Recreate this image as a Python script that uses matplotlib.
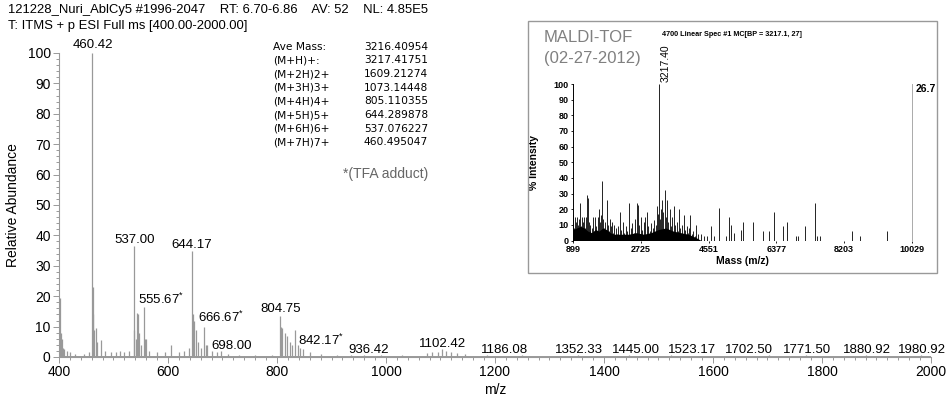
import matplotlib
matplotlib.use("Agg")
import matplotlib.pyplot as plt
from matplotlib.patches import Rectangle
from matplotlib.ticker import MultipleLocator

plt.rcParams['font.family'] = ['Liberation Sans', 'DejaVu Sans']
plt.rcParams['mathtext.fontset'] = 'custom'
plt.rcParams['mathtext.rm'] = 'Liberation Sans'

# ESI full scan, stick peaks (m/z, relative abundance)
esi_mz = [402.5, 403.7, 405, 407, 410, 415, 420, 430, 445, 455,
          460.42, 461.5, 463, 465, 467, 470, 477, 485, 495, 505,
          512, 520, 528, 537.00, 538.5, 541, 543, 545, 547, 550,
          555.67, 557.5, 559, 565, 580, 595, 606, 620, 630, 638,
          644.17, 645.5, 648, 651, 655.5, 660, 666.67, 669, 671, 680,
          690, 698.00, 710, 730, 760, 790, 804.75, 806.5, 810, 814.5,
          819, 824, 828, 833, 838, 842.17, 848, 860, 880, 910,
          936.42, 960, 990, 1030, 1075, 1085, 1095, 1102.42, 1110, 1120,
          1130, 1145, 1186.08, 1250, 1352.33, 1445.00, 1523.17, 1702.50, 1771.50, 1880.92,
          1980.92]
esi_int = [19.3, 8, 6, 3, 2.5, 2, 1.5, 1, 1, 1.5,
           100, 23, 14, 9, 9.5, 5, 5.5, 2, 1.5, 1.5,
           2, 1.5, 2, 36.5, 9, 6, 14.5, 14, 8, 4,
           16.5, 6, 6, 2, 1.5, 1.5, 4, 1.5, 2, 3,
           35, 14, 12, 9, 5, 3, 10, 4, 4, 2,
           1.5, 2, 1, 0.8, 0.8, 0.8, 13.5, 10, 9.5, 8,
           7, 5, 4, 9, 4, 3, 2.5, 1.5, 1, 0.8,
           0.8, 0.6, 0.6, 0.6, 1.2, 1.5, 1.8, 2.5, 2, 1.5,
           1.2, 1, 0.8, 0.6, 0.6, 0.6, 0.6, 0.6, 0.6, 0.6,
           0.6]
noise_floor = 0.4

# labelled peaks, * = TFA adduct
label_mz = [460.42, 537.00, 644.17, 555.67, 666.67, 698.00, 804.75, 842.17, 936.42,
            1102.42, 1186.08, 1352.33, 1445.00, 1523.17, 1702.50, 1771.50, 1880.92, 1980.92]
tfa_adduct = [555.67, 666.67, 842.17]
# where each label text sits (x, y in data units)
label_xy = [(461.5, 101.5), (538.5, 37.5), (644, 36), (587, 17.4), (697, 11.4),
            (717, 2.6), (806, 14.8), (880, 3.9), (968, 1.2), (1104, 3.2),
            (1218, 1.3), (1354, 1.3), (1459, 1.3), (1561, 1.3), (1666, 1.3),
            (1772, 1.3), (1882, 1.3), (1983, 1.3)]

# scan header
header_parts = ["121228_Nuri_AblCy5 #1996-2047", "RT: 6.70-6.86", "AV: 52", "NL: 4.85E5"]
scan_filter = "T: ITMS + p ESI Full ms [400.00-2000.00]"

# charge states table
ion_names = ["Ave Mass:", "(M+H)+:", "(M+2H)2+", "(M+3H)3+", "(M+4H)4+",
             "(M+5H)5+", "(M+6H)6+", "(M+7H)7+"]
ion_values = ["3216.40954", "3217.41751", "1609.21274", "1073.14448", "805.110355",
              "644.289878", "537.076227", "460.495047"]

# MALDI-TOF inset
maldi_mz = [905, 920, 940, 960, 975, 990, 1010, 1030, 1050, 1070,
            1098, 1120, 1140, 1160, 1180, 1200, 1225, 1250, 1279, 1300,
            1320, 1345, 1370, 1395, 1420, 1450, 1475, 1500, 1530, 1560,
            1604, 1630, 1660, 1685, 1710, 1735, 1760, 1803, 1830, 1860,
            1890, 1920, 1950, 1980, 2010, 2045, 2080, 2120, 2165, 2200,
            2240, 2280, 2320, 2360, 2409, 2450, 2490, 2530, 2570, 2617,
            2640, 2680, 2720, 2760, 2800, 2843, 2888, 2930, 2970, 3010,
            3050, 3090, 3130, 3159, 3190, 3217.4, 3245, 3270, 3295, 3330,
            3367, 3400, 3430, 3465, 3502, 3540, 3575, 3611, 3650, 3690,
            3720, 3747, 3790, 3830, 3882, 3920, 3960, 4000, 4030, 4063,
            4100, 4140, 4180, 4217, 4260, 4334, 4420, 4515, 4605, 4700,
            4831, 5010, 5102, 5147, 5238, 5419, 5464, 5744, 6006, 6187,
            6323, 6549, 6666, 6910, 6955, 7136, 7408, 7480, 7544, 8402,
            8627, 9350]
maldi_int = [17, 8, 15, 6, 12, 5, 15, 10, 7, 14,
             24, 9, 15, 6, 12, 15, 8, 15, 29, 27,
             12, 6, 10, 4, 8, 15, 5, 15, 9, 15,
             20, 12, 16, 38, 14, 8, 12, 26, 10, 6,
             14, 9, 12, 5, 10, 8, 4, 9, 18, 7,
             12, 5, 9, 6, 24, 8, 11, 5, 14, 24,
             23, 10, 15, 7, 12, 15, 18, 9, 6, 11,
             8, 13, 10, 22, 17, 100, 14, 20, 26, 18,
             32, 15, 26, 12, 20, 9, 15, 22, 10, 12,
             6, 20, 8, 10, 16, 7, 9, 5, 8, 16,
             4, 6, 3, 10, 4, 4, 3, 3, 9, 3,
             21, 3, 15, 10, 5, 7, 12, 12, 6, 6,
             18, 9, 12, 3, 3, 9, 24, 3, 3, 6,
             3, 6]
# unresolved low-mass grass under the sticks
grass_mz = [899, 1000, 1100, 1200, 1300, 1400, 1500, 1600, 1700, 1800,
            1900, 2000, 2200, 2400, 2600, 2800, 3000, 3200, 3400, 3600,
            3800, 4000, 4200, 4350]
grass_int = [7, 8, 9, 8, 6, 5, 7, 6, 8, 7,
             5, 4, 4, 4, 5, 4, 5, 7, 8, 6,
             5, 4, 2, 0]
maldi_ticks = [899, 2725, 4551, 6377, 8203, 10029]
maldi_base_peak = 3217.40
maldi_abs = "26.7"

W, H = 951, 396
fig = plt.figure(figsize=(W / 100, H / 100), dpi=100)

# ---- main ESI spectrum
ax = fig.add_axes([59 / W, 1 - 357 / H, 872 / W, 304 / H])
ax.vlines(esi_mz, 0, esi_int, color='#999999', lw=0.9)
ax.axhline(noise_floor, color='#999999', lw=0.7)
ax.set_xlim(400, 2000)
ax.set_ylim(0, 100)
ax.xaxis.set_major_locator(MultipleLocator(200))
ax.xaxis.set_minor_locator(MultipleLocator(20))
ax.yaxis.set_major_locator(MultipleLocator(10))
ax.yaxis.set_minor_locator(MultipleLocator(2))
for s in ['top', 'right']:
    ax.spines[s].set_visible(False)
for s in ['left', 'bottom']:
    ax.spines[s].set_color('#999999')
    ax.spines[s].set_linewidth(0.8)
ax.tick_params(which='both', colors='#999999', labelcolor='black', labelsize=10, width=0.7)
ax.tick_params(which='major', length=4, pad=2)
ax.tick_params(which='minor', length=2.5)
ax.set_ylabel("Relative Abundance", fontsize=10)
ax.yaxis.set_label_coords(-0.045, 0.5)
ax.set_xlabel("m/z", fontsize=10)
ax.xaxis.set_label_coords(0.5, -0.085)

for mz, (tx, ty) in zip(label_mz, label_xy):
    txt = f"{mz:.2f}"
    if mz in tfa_adduct:
        txt += r"$^{*}$"
    ax.text(tx, ty, txt, ha='center', va='baseline', fontsize=9.5, clip_on=False)

# header lines
fig.text(8 / W, 1 - 13 / H, "    ".join(header_parts), fontsize=9.4, va='baseline')
fig.text(8 / W, 1 - 29 / H, scan_filter, fontsize=9.4, va='baseline')

# charge state table
for i, (name, val) in enumerate(zip(ion_names, ion_values)):
    y = 1 - (46.7 + i * 13.66) / H
    fig.text(273 / W, y, name, family='DejaVu Sans', fontsize=7.7, va='center')
    fig.text(364 / W, y, val, family='DejaVu Sans', fontsize=7.7, va='center')
fig.text(386 / W, 1 - 174 / H, "*(TFA adduct)", fontsize=10, color='#666666',
         ha='center', va='center')

# ---- MALDI-TOF inset
fig.patches.append(Rectangle((528 / W, 1 - 273 / H), 409 / W, 252 / H,
                             transform=fig.transFigure, fill=False,
                             edgecolor='#999999', lw=1))
fig.text(544 / W, 1 - 37 / H, "MALDI-TOF", fontsize=12, color='#808080', va='center')
fig.text(544 / W, 1 - 58 / H, "(02-27-2012)", fontsize=12, color='#808080', va='center')
fig.text(732 / W, 1 - 35 / H, "4700 Linear Spec #1 MC[BP = 3217.1, 27]",
         fontsize=5.2, weight='bold', ha='center', va='center')

ax2 = fig.add_axes([573 / W, 1 - 240.5 / H, 339 / W, 156.5 / H])
ax2.fill_between(grass_mz, 0, grass_int, color='black', lw=0)
ax2.vlines(maldi_mz, 0, maldi_int, color='black', lw=0.6)
ax2.set_xlim(899, 10029)
ax2.set_ylim(0, 100)
ax2.set_xticks(maldi_ticks)
ax2.set_yticks(range(0, 101, 10))
for s in ['top', 'bottom']:
    ax2.spines[s].set_visible(False)
ax2.spines['left'].set_linewidth(0.7)
ax2.spines['right'].set_color('#aaaaaa')
ax2.spines['right'].set_linewidth(0.7)
ax2.tick_params(labelsize=6.5, length=1.5, pad=1.5, width=0.6)
for lab in ax2.get_xticklabels() + ax2.get_yticklabels():
    lab.set_fontweight('bold')
ax2.set_ylabel("% Intensity", fontsize=7.5, weight='bold')
ax2.yaxis.set_label_coords(-0.1, 0.5)
ax2.set_xlabel("Mass (m/z)", fontsize=7.5, weight='bold')
ax2.xaxis.set_label_coords(0.5, -0.1)
ax2.text(maldi_base_peak + 40, 101, f"{maldi_base_peak:.2f}", rotation=90,
         ha='left', va='bottom', fontsize=7.5, clip_on=False)
ax2.text(1.01, 0.97, maldi_abs, transform=ax2.transAxes, fontsize=7.5,
         weight='bold', va='center', ha='left')

fig.savefig("out.png", dpi=100)
